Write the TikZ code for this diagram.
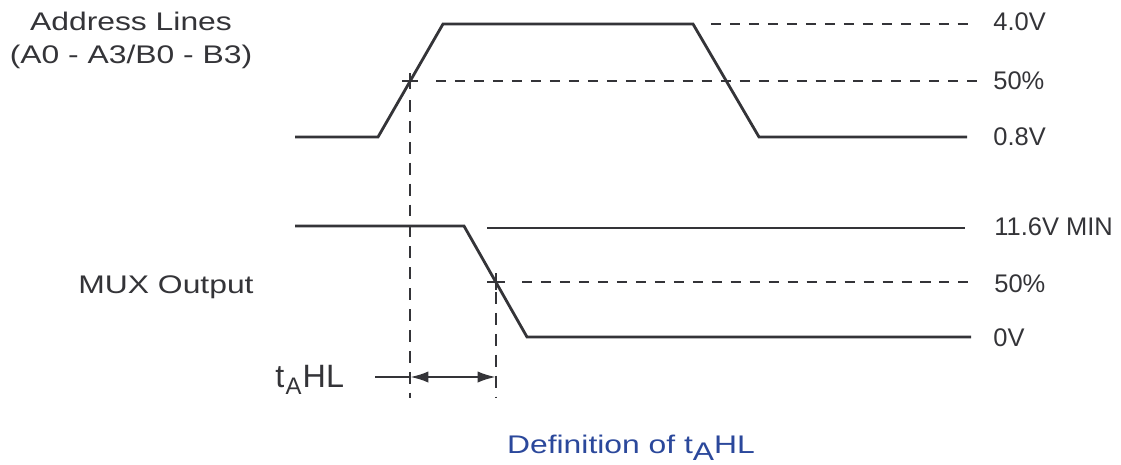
\documentclass[tikz,border=0pt]{standalone}
\usepackage{fontspec}
\setmainfont{Liberation Sans}
\newfontfamily\widesans[FakeStretch=1.25]{Liberation Sans}
\usetikzlibrary{arrows.meta,positioning,calc}
\definecolor{wire}{RGB}{52,52,56}
\definecolor{capblue}{RGB}{43,72,155}

\begin{document}
\begin{tikzpicture}[x=0.02cm, y=-0.02cm, >={Latex[length=10.4pt,width=6.4pt]}]
\tikzstyle{level}=[text=wire, anchor=base west, inner sep=0pt, font=\fontsize{14.5}{17}\selectfont]
\tikzstyle{sidelabel}=[text=wire, anchor=base, inner sep=0pt, font=\widesans\fontsize{14.5}{17}\selectfont]
\tikzstyle{signal}=[draw=wire, line width=1.6pt, line join=miter]
\tikzstyle{hguide}=[draw=wire, line width=1.5pt, dash pattern=on 5.7pt off 5.1pt]
\tikzstyle{vguide}=[draw=wire, line width=1.5pt, dash pattern=on 6.8pt off 5.1pt]
\tikzstyle{tick}=[draw=wire, line width=1.5pt]
\useasboundingbox (0,0) rectangle (1121,464);

% address lines waveform
\coordinate (a0) at (295,137);
\coordinate (a1) at (378,137);
\coordinate (a2) at (443,24);
\coordinate (a3) at (693,24);
\coordinate (a4) at (759,137);
\coordinate (a5) at (967,137);
\draw[signal] (a0) -- (a1) -- (a2) -- (a3) -- (a4) -- (a5);

% mux output waveform
\coordinate (m0) at (295,226);
\coordinate (m1) at (464,226);
\coordinate (m2) at (527,337);
\coordinate (m3) at (971,337);
\draw[signal] (m0) -- (m1) -- (m2) -- (m3);
\coordinate (minA) at (487,228);
\coordinate (minB) at (965,228);
\draw[signal] (minA) -- (minB);

% reference levels
\coordinate (hiA) at (711,24);
\coordinate (hiB) at (968,24);
\draw[hguide] (hiA) -- (hiB);
\coordinate (amid) at (410,81);
\coordinate (amidR) at (977,81);
\draw[hguide] ($(amid)+(26,0)$) -- (amidR);
\coordinate (mmid) at (496,282);
\coordinate (mmidR) at (972,282);
\draw[hguide] ($(mmid)+(26,0)$) -- (mmidR);

% 50% crossings
\draw[tick] ($(amid)+(-8,0)$) -- ($(amid)+(8,0)$);
\draw[tick] ($(amid)+(0,-8)$) -- ($(amid)+(0,8)$);
\draw[tick] ($(mmid)+(-9,0)$) -- ($(mmid)+(9,0)$);
\draw[tick] ($(mmid)+(0,-9)$) -- ($(mmid)+(0,8)$);
\coordinate (adrop) at (410,398);
\coordinate (mdrop) at (496,397);
\draw[vguide] ($(amid)+(0,19)$) -- (adrop);
\draw[vguide] ($(mmid)+(0,10)$) -- (mdrop);

% delay arrow
\coordinate (dtail) at (375,377);
\coordinate (dL) at (410,377);
\coordinate (dR) at (496,377);
\draw[draw=wire, line width=1.4pt] (dtail) -- (dL);
\draw[draw=wire, line width=1.4pt, <->] (dL) -- (dR);

% level labels
\node[level] (lv40)  at (993,30)  {4.0V};
\node[level] (lv50a) at (993,89)  {50\%};
\node[level] (lv08)  at (993,145) {0.8V};
\node[level] (lv116) at (994,235) {11.6V MIN};
\node[level] (lv50b) at (994,292) {50\%};
\node[level] (lv0)   at (993,346) {0V};

% signal names
\node[sidelabel] (addr)    at (131,30) {Address Lines};
\node[sidelabel] (addrsub) at (131,63) {(A0 - A3/B0 - B3)};
\node[sidelabel] (mux)     at (166,293) {MUX Output};
\node[text=wire, anchor=base west, inner sep=0pt, font=\fontsize{18.4}{20}\selectfont] (tahl) at (275,387)
  {t\kern0.8pt\raisebox{-4.5pt}{\fontsize{13.6}{15}\selectfont A}\kern0.6pt HL};

% caption
\node[sidelabel, text=capblue] (caption) at (631,453)
  {Definition of t\raisebox{-4pt}{A}HL};
\end{tikzpicture}
\end{document}
